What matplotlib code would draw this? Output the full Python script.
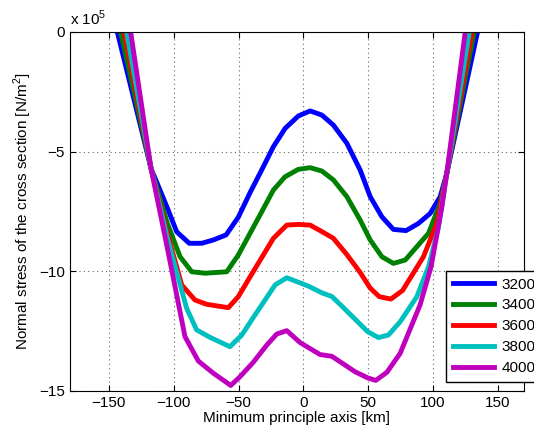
import numpy as np
import matplotlib
matplotlib.use('Agg')
import matplotlib.pyplot as plt

plt.rcParams['font.family'] = ['Liberation Sans', 'DejaVu Sans']
plt.rcParams['mathtext.fontset'] = 'custom'
plt.rcParams['mathtext.rm'] = 'Liberation Sans'

# valori (stress in unitati de 1e5 N/m^2)
x_3200 = [-150, -143.5, -117.5, -105, -97.7, -88, -78.4, -69.4, -59.6, -50.2, -41, -32, -23.1, -14.1, -3.9, 5.2, 14.2, 23.1, 33.5, 43.8, 51.5, 60.5, 69.4, 79.2, 88.7, 97.8, 105.5, 110.6, 134.3, 140]
s_3200 = [1.4, 0, -5.7, -7.34, -8.35, -8.83, -8.83, -8.69, -8.48, -7.74, -6.7, -5.75, -4.79, -4.03, -3.51, -3.30, -3.47, -3.89, -4.65, -5.77, -6.88, -7.72, -8.25, -8.30, -8.0, -7.58, -6.88, -5.9, 0, 1.4]

x_3400 = [-147, -140.9, -117.5, -105, -95.1, -86.1, -75.8, -59.1, -50.2, -41.1, -32, -23.1, -14.1, -3.9, 5.2, 14.2, 23.1, 33.5, 43.8, 51.5, 60.5, 69.4, 78.5, 87.5, 96.5, 105.5, 110.6, 131.7, 137]
s_3400 = [1.45, 0, -5.7, -7.98, -9.39, -10.02, -10.08, -10.02, -9.32, -8.41, -7.5, -6.60, -6.05, -5.74, -5.67, -5.81, -6.18, -6.88, -7.86, -8.69, -9.39, -9.67, -9.53, -8.97, -8.41, -7.16, -5.9, 0, 1.5]

x_3600 = [-144, -138.3, -117.5, -105, -93.8, -83.6, -74.5, -57.9, -50.2, -41.1, -23.1, -12.8, -3.9, 5.2, 14.2, 23.1, 33.5, 43.8, 51.5, 58.5, 67.5, 76.5, 92.6, 102.9, 110.6, 130, 135]
s_3600 = [1.55, 0, -5.7, -8.4, -10.57, -11.2, -11.38, -11.52, -11.06, -10.23, -8.62, -8.07, -8.04, -8.07, -8.34, -8.62, -9.3, -10.05, -10.7, -11.06, -11.16, -10.8, -9.39, -7.99, -5.9, 0, 1.5]

x_3800 = [-141, -136.3, -117.5, -105, -90, -82.3, -72, -56.6, -47.5, -38.6, -21.8, -12.8, 3.9, 14.2, 21.9, 30.5, 49.5, 57.9, 65.6, 74.6, 87.5, 96.5, 104, 110.6, 127.9, 132]
s_3800 = [1.4, 0, -5.7, -8.6, -11.55, -12.45, -12.76, -13.15, -12.66, -11.93, -10.57, -10.27, -10.62, -10.9, -11.05, -11.5, -12.52, -12.77, -12.66, -12.11, -11.06, -9.81, -8.2, -5.9, 0, 1.4]

x_4000 = [-137, -133.2, -117.5, -105, -91.3, -81, -69.4, -56, -48.8, -38.6, -28.2, -20.5, -12.8, -2.5, 12.9, 21.9, 28.3, 39.9, 49.5, 55.8, 64.4, 74.6, 90, 98.5, 106.8, 110.6, 124.8, 128]
s_4000 = [1.4, 0, -5.7, -9.0, -12.73, -13.75, -14.26, -14.77, -14.40, -13.8, -13.08, -12.62, -12.48, -12.98, -13.48, -13.55, -13.78, -14.2, -14.45, -14.56, -14.22, -13.43, -11.4, -9.8, -7.3, -5.9, 0, 1.3]

fig = plt.figure(figsize=(5.34, 4.32), dpi=100)
ax = fig.add_axes([0.131, 0.095, 0.850, 0.831])

ax.plot(x_3200, s_3200, color=(0, 0, 1), lw=3.5, label='3200')
ax.plot(x_3400, s_3400, color=(0, 0.5, 0), lw=3.5, label='3400')
ax.plot(x_3600, s_3600, color=(1, 0, 0), lw=3.5, label='3600')
ax.plot(x_3800, s_3800, color=(0, 0.75, 0.75), lw=3.5, label='3800')
ax.plot(x_4000, s_4000, color=(0.75, 0, 0.75), lw=3.5, label='4000')

ax.set_xlim(-180, 170)
ax.set_ylim(-15, 0)
ax.set_xticks([-150, -100, -50, 0, 50, 100, 150])
ax.set_yticks([-15, -10, -5, 0])
ax.set_xticklabels(['\u2212150', '\u2212100', '\u221250', '0', '50', '100', '150'])
ax.set_yticklabels(['\u221215', '\u221210', '\u22125', '0'])
ax.tick_params(direction='in', top=True, right=True, labelsize=11, length=4)
ax.grid(True, linestyle=(0, (1, 3)), color='0.4', linewidth=0.8)

ax.set_xlabel('Minimum principle axis [km]', fontsize=11, labelpad=1)
ax.set_ylabel('Normal stress of the cross section [N/m$^2$]', fontsize=11, labelpad=4)
ax.text(0, 1.012, r'x 10$^5$', transform=ax.transAxes, ha='left', va='bottom', fontsize=11)

leg = ax.legend(loc='upper left', bbox_to_anchor=(0.828, 0.335), fontsize=11,
                frameon=True, fancybox=False, edgecolor='black', framealpha=1,
                handlelength=2.7, labelspacing=0.45, borderpad=0.45, handletextpad=0.5,
                borderaxespad=0)
leg.get_frame().set_linewidth(1.0)

fig.savefig('out.png', dpi=100)
